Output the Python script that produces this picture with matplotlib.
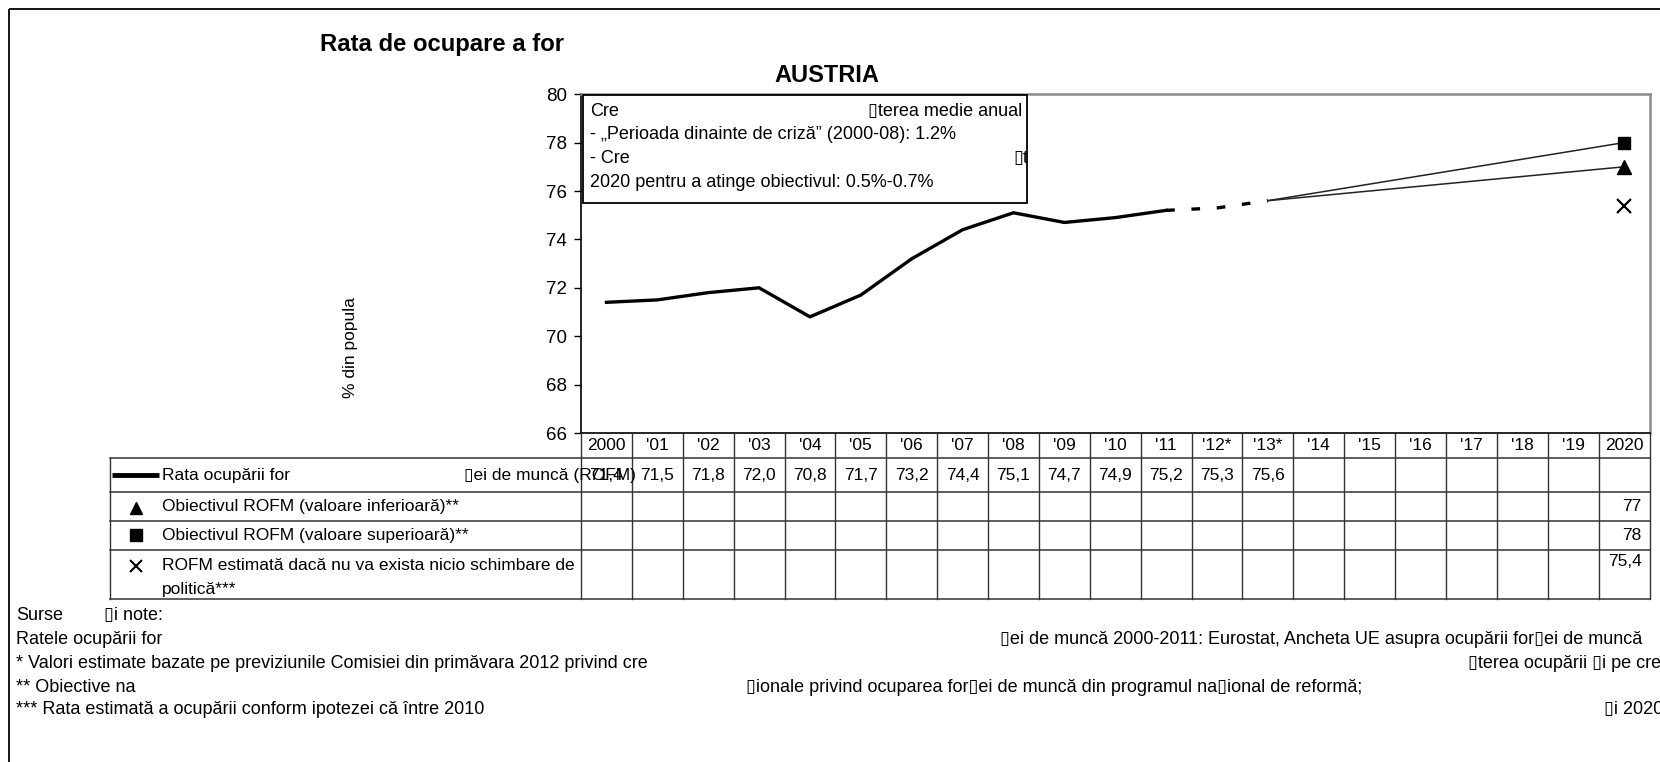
import matplotlib
matplotlib.use('Agg')
from matplotlib import pyplot as plt
from matplotlib.patches import Rectangle

plt.rcParams['font.family'] = ['Liberation Sans', 'DejaVu Sans']

# data
year_labels = ['2000', "'01", "'02", "'03", "'04", "'05", "'06", "'07", "'08",
               "'09", "'10", "'11", "'12*", "'13*", "'14", "'15", "'16",
               "'17", "'18", "'19", '2020']
rofm = [71.4, 71.5, 71.8, 72.0, 70.8, 71.7, 73.2, 74.4, 75.1, 74.7, 74.9,
        75.2, 75.3, 75.6]
n_actual = 12          # 2000-2011 observed, '12-'13 estimated
target_low = 77
target_high = 78
no_change = 75.4

W, H = 1660, 762
fs = 12.5      # table text
fs_note = 13   # notes and info box
BOX = '\u25af'


def fx(x):
    return x / W


def fy(y):
    return 1 - y / H


def num(v, fmt='{:.1f}'):
    return fmt.format(v).replace('.', ',')


fig = plt.figure(figsize=(W / 100, H / 100), dpi=100)

# chart area
x0, x1, y_top, y_bot = 581, 1649.5, 94.2, 433
ax = fig.add_axes([fx(x0), fy(y_bot), fx(x1 - x0), (y_bot - y_top) / H])
ax.set_xlim(-0.5, len(year_labels) - 0.5)
ax.set_ylim(66, 80)
ax.set_yticks(range(66, 81, 2))
ax.set_xticks([])
ax.tick_params(axis='y', direction='out', length=5, width=1, labelsize=13.5,
               pad=5)
for s in ['left', 'bottom']:
    ax.spines[s].set_color('black')
    ax.spines[s].set_linewidth(1.2)
for s in ['top', 'right']:
    ax.spines[s].set_color('#8c8c8c')
    ax.spines[s].set_linewidth(1.8)

xs = list(range(len(rofm)))
ax.plot(xs[:n_actual], rofm[:n_actual], color='black', lw=2.4,
        solid_joinstyle='miter')
ax.plot(xs[n_actual - 1:], rofm[n_actual - 1:], color='black', lw=2.4,
        dashes=(2.6, 5.0), dash_capstyle='butt')
last = len(year_labels) - 1
ax.plot([xs[-1], last], [rofm[-1], target_high], color='#222222', lw=1.1)
ax.plot([xs[-1], last], [rofm[-1], target_low], color='#222222', lw=1.1)
ax.plot([last], [target_high], marker='s', ms=9, color='black', ls='none',
        clip_on=False)
ax.plot([last], [target_low], marker='^', ms=10, color='black', ls='none',
        clip_on=False)
ax.plot([last], [no_change], marker='x', ms=10, mew=1.6, color='black',
        ls='none', clip_on=False)

# overlay for text, table, box
ov = fig.add_axes([0, 0, 1, 1])
ov.set_xlim(0, W)
ov.set_ylim(H, 0)
ov.axis('off')

ov.add_patch(Rectangle((9, 9), W + 20, H + 20, fill=False, ec='black',
                       lw=1.3, clip_on=False))

ov.text(320, 44.5, 'Rata de ocupare a for', fontsize=17.2, fontweight='bold',
        va='center', ha='left')
ov.text(827, 75, 'AUSTRIA', fontsize=17, fontweight='bold', va='center',
        ha='center')
ov.text(350, 348, '% din popula', fontsize=fs, rotation=90, va='center',
        ha='center')

# info box
box = Rectangle((583, 95), 444, 108, fc='white', ec='black', lw=1.3)
ov.add_patch(box)
box_lines = [
    (590, 111.2, 'Cre'),
    (868, 111.2, BOX + 'terea medie anual'),
    (590, 134.5, '- \u201ePerioada dinainte de criz\u0103\u201d (2000-08): 1.2%'),
    (590, 158.8, '- Cre'),
    (1013, 158.8, BOX + 't'),
    (590, 182.1, '2020 pentru a atinge obiectivul: 0.5%-0.7%'),
]
for bx, by, t in box_lines:
    tt = ov.text(bx, by, t, fontsize=fs_note, va='center', ha='left',
                 clip_on=True)
    tt.set_clip_path(box)

# table
colw = (x1 - x0) / len(year_labels)
rows = [433, 458.4, 492.3, 520.9, 549.5, 599.2]
lab_x = 110
line_c = '#333333'
for k in range(len(year_labels) + 1):
    xx = x0 + k * colw
    ov.plot([xx, xx], [rows[0], rows[-1]], color=line_c, lw=1)
ov.plot([lab_x, lab_x], [rows[1], rows[-1]], color=line_c, lw=1)
for r in rows[1:]:
    ov.plot([lab_x, x1], [r, r], color=line_c, lw=1.1)

for i, lab in enumerate(year_labels):
    ov.text(x0 + (i + 0.5) * colw, (rows[0] + rows[1]) / 2, lab, fontsize=fs,
            ha='center', va='center')

r1 = (rows[1] + rows[2]) / 2
for i, v in enumerate(rofm):
    ov.text(x0 + (i + 0.5) * colw, r1, num(v), fontsize=fs, ha='center',
            va='center')
xr = x0 + len(year_labels) * colw - 8
ov.text(xr, (rows[2] + rows[3]) / 2, num(target_low, '{:g}'), fontsize=fs,
        ha='right', va='center')
ov.text(xr, (rows[3] + rows[4]) / 2, num(target_high, '{:g}'), fontsize=fs,
        ha='right', va='center')
ov.text(xr, 562, num(no_change, '{:g}'), fontsize=fs, ha='right',
        va='center')

# row labels
ov.plot([112, 159], [r1, r1], color='black', lw=3.5, solid_capstyle='butt')
ov.text(162, r1, 'Rata ocup\u0103rii for', fontsize=fs, va='center')
ov.text(464, r1, BOX + 'ei de munc\u0103 (ROFM)', fontsize=fs, va='center')
ov.plot([135.5], [(rows[2] + rows[3]) / 2 + 1], marker='^', ms=9,
        color='black')
ov.text(162, (rows[2] + rows[3]) / 2, 'Obiectivul ROFM (valoare inferioar\u0103)**',
        fontsize=fs, va='center')
ov.plot([135.5], [(rows[3] + rows[4]) / 2], marker='s', ms=8, color='black')
ov.text(162, (rows[3] + rows[4]) / 2,
        'Obiectivul ROFM (valoare superioar\u0103)**', fontsize=fs,
        va='center')
ov.plot([135.5], [566], marker='x', ms=9, mew=1.5, color='black')
ov.text(162, 566, 'ROFM estimat\u0103 dac\u0103 nu va exista nicio schimbare de',
        fontsize=fs, va='center')
ov.text(162, 589.7, 'politic\u0103***', fontsize=fs, va='center')

# notes
notes = [
    (16, 616, 'Surse'),
    (104, 616, BOX + 'i note:'),
    (16, 639.5, 'Ratele ocup\u0103rii for'),
    (1000, 639.5, BOX + 'ei de munc\u0103 2000-2011: Eurostat, Ancheta UE '
     'asupra ocup\u0103rii for' + BOX + 'ei de munc\u0103'),
    (16, 664, '* Valori estimate bazate pe previziunile Comisiei din '
     'prim\u0103vara 2012 privind cre'),
    (1468, 664, BOX + 'terea ocup\u0103rii ' + BOX + 'i pe cre'),
    (16, 687, '** Obiective na'),
    (746, 687, BOX + 'ionale privind ocuparea for' + BOX + 'ei de munc\u0103 '
     'din programul na' + BOX + 'ional de reform\u0103;'),
    (16, 710, '*** Rata estimat\u0103 a ocup\u0103rii conform ipotezei '
     'c\u0103 \u00eentre 2010'),
    (1604, 710, BOX + 'i 2020'),
]
for nx, ny, t in notes:
    ov.text(nx, ny, t, fontsize=fs_note, va='center', ha='left')

fig.savefig('out.png', dpi=100, facecolor='white')
